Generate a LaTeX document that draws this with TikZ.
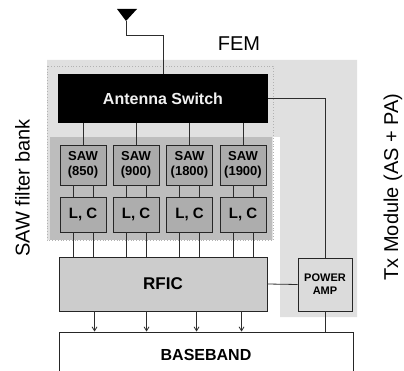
\documentclass[tikz,border=0pt]{standalone}
\usepackage{fontspec}
\setmainfont{Liberation Sans}
\usetikzlibrary{arrows.meta}
\begin{document}
\begin{tikzpicture}[x=1pt,y=-1pt,
  ln/.style={draw=gray!35!black, line width=0.8pt},
  arr/.style={ln, -{Straight Barb[length=4pt,width=5pt]}},
  sawbox/.style={draw=gray!30!black, line width=0.9pt, fill=gray!66, minimum width=46pt, minimum height=40pt, inner sep=0pt, align=center, font=\bfseries\fontsize{13}{15}\selectfont},
  lcbox/.style={draw=gray!30!black, line width=0.9pt, fill=gray!64, minimum width=46pt, minimum height=35pt, inner sep=0pt, font=\bfseries\fontsize{15}{17}\selectfont},
  lbl/.style={inner sep=0pt, font=\fontsize{20}{24}\selectfont}
]
\clip (0,0) rectangle (404,371);
\fill[white] (0,0) rectangle (404,371);
% Tx module region
\fill[gray!24] (47,60) -- (357,60) -- (357,317) -- (280,317) -- (280,137) -- (47,137) -- cycle;
% FEM region
\fill[gray!24] (47,66) rectangle (273,240);
\fill[gray!52] (50,137) rectangle (272,240);
\draw[gray!60, dotted, line width=0.8pt] (47,66) rectangle (273,240);
% labels
\node[lbl] (fem) at (239,44) {FEM};
\node[lbl, rotate=90, anchor=base] (sawlbl) at (29.5,188) {SAW filter bank};
\node[lbl, rotate=90, anchor=base] (txlbl) at (398,187) {Tx Module (AS + PA)};
% antenna switch
\node[fill=black, minimum width=210pt, minimum height=49pt, inner sep=0pt, text=gray!12, font=\bfseries\fontsize{16}{18}\selectfont] (as) at (163,98.5) {Antenna Switch};
% antenna
\coordinate (ant) at (126,21);
\coordinate (bend) at (163,35);
\fill[black] (117,9) -- (137,9) -- (ant) -- cycle;
\draw[ln] (ant) |- (bend) -- (as.north);
% SAW and LC
\node[sawbox] (s1) at (83,165) {SAW\\(850)};
\node[sawbox] (s2) at (136,165) {SAW\\(900)};
\node[sawbox] (s3) at (189.5,165) {SAW\\(1800)};
\node[sawbox] (s4) at (243,165) {SAW\\(1900)};
\node[lcbox] (l1) at (83,214.5) {L, C};
\node[lcbox] (l2) at (136,214.5) {L, C};
\node[lcbox] (l3) at (189.5,214.5) {L, C};
\node[lcbox] (l4) at (243,214.5) {L, C};
% RFIC, PA, baseband
\node[draw=gray!30!black, line width=0.9pt, fill=gray!40, minimum width=208pt, minimum height=54pt, inner sep=0pt, font=\bfseries\fontsize{17}{19}\selectfont] (rfic) at (163,284) {RFIC};
\node[draw=gray!30!black, line width=0.9pt, fill=gray!28, minimum width=54pt, minimum height=53pt, inner sep=0pt, align=center, font=\bfseries\fontsize{11}{13}\selectfont] (pa) at (325,284.5) {POWER\\AMP};
\node[draw=gray!30!black, line width=0.9pt, fill=white, minimum width=294pt, minimum height=46pt, inner sep=0pt, font=\bfseries\fontsize{16}{18}\selectfont, text depth=0pt] (bb) at (206,355) {\raisebox{1pt}{BASEBAND}};
% connectors
\foreach \s in {s1,s2,s3,s4} {
  \draw[ln] (\s.north |- as.south) -- (\s.north);
}
\foreach \s/\l in {s1/l1,s2/l2,s3/l3,s4/l4} {
  \draw[ln] ([xshift=-10pt]\s.south) -- ([xshift=-10pt]\l.north);
  \draw[ln] ([xshift=10pt]\s.south) -- ([xshift=10pt]\l.north);
  \draw[ln] ([xshift=-10pt]\l.south) -- ([xshift=-10pt]\l.south |- rfic.north);
  \draw[ln] ([xshift=10pt]\l.south) -- ([xshift=10pt]\l.south |- rfic.north);
}
\foreach \d in {36,88,138,183} {
  \draw[arr] ([xshift=\d pt]rfic.south west) -- ([xshift=\d pt]rfic.south west |- bb.north);
}
\draw[ln] (as.east) -| (pa.north);
\draw[ln] (rfic.east) -- (pa.west);
\draw[ln] (pa.south) -- (pa.south |- bb.north);
\end{tikzpicture}
\end{document}
